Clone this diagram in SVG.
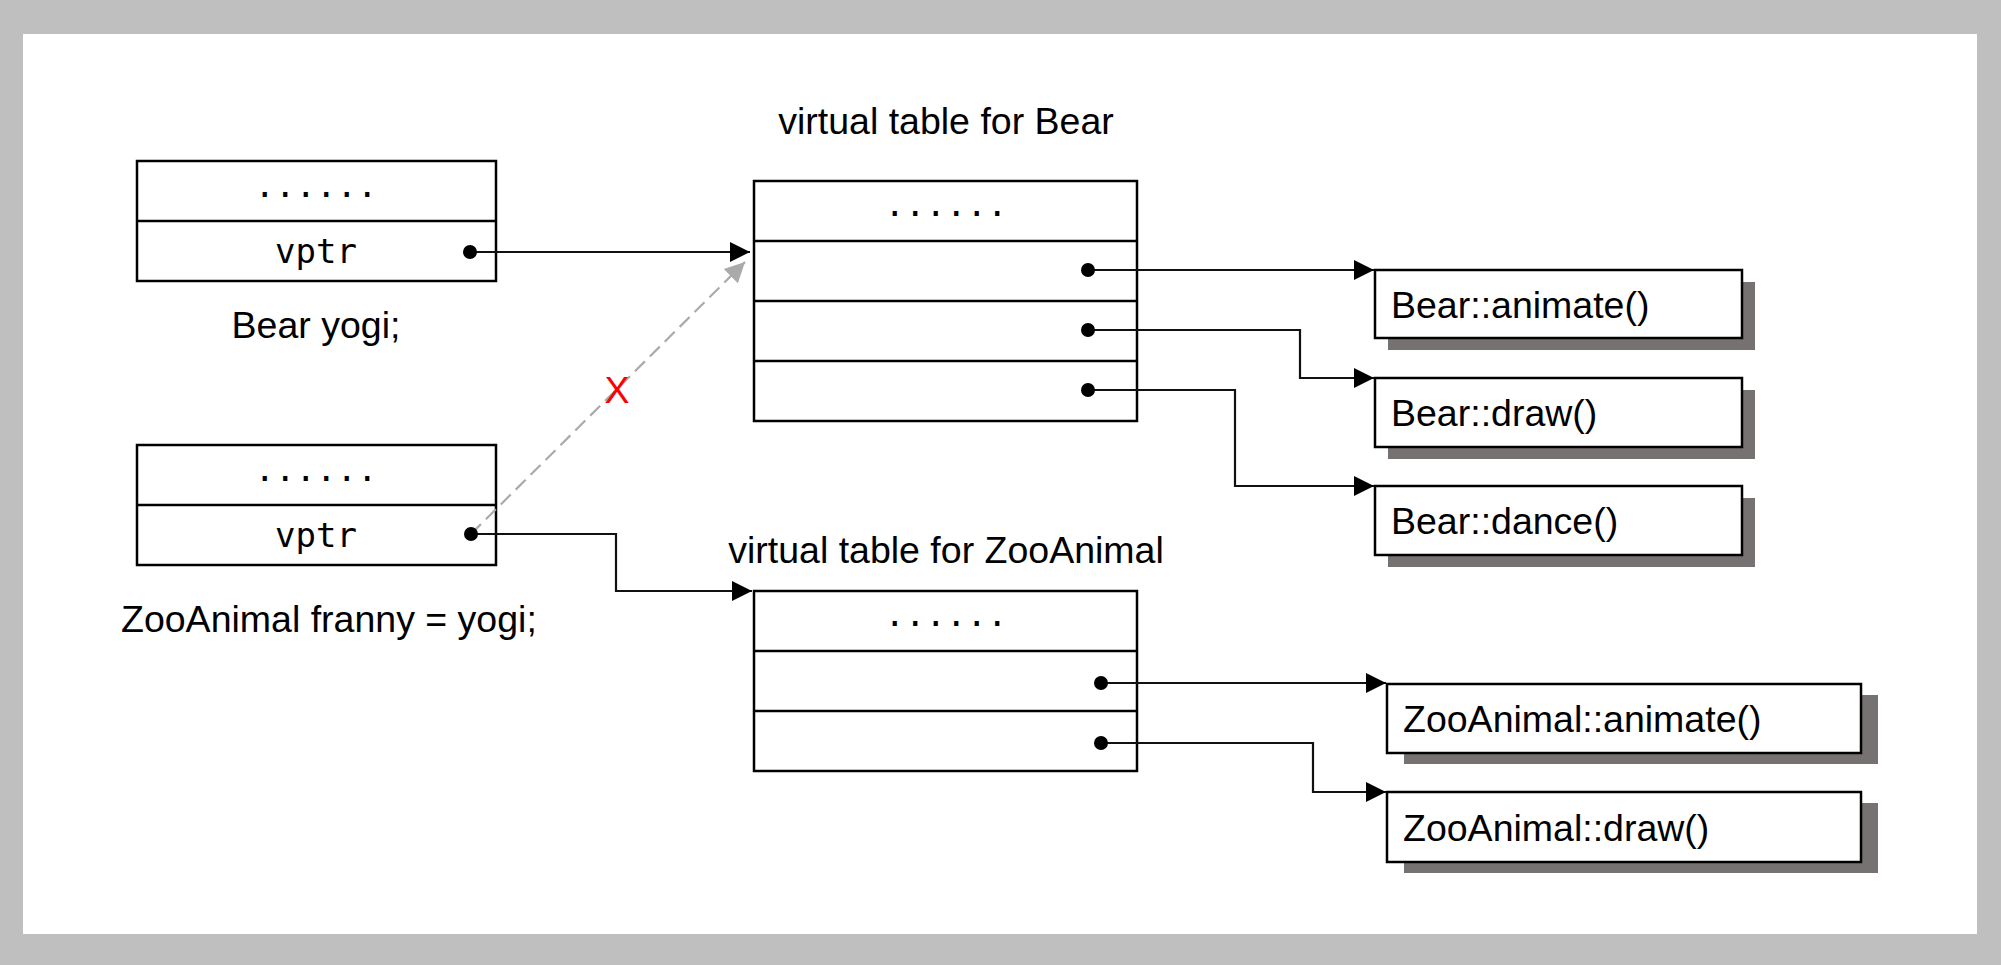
<svg xmlns="http://www.w3.org/2000/svg" width="2001" height="965" viewBox="0 0 2001 965">
<style>
.box{fill:#fff;stroke:#000;stroke-width:2.5}
.div{stroke:#000;stroke-width:2.5}
.shadow{fill:#777272}
.mono{font-family:"DejaVu Sans Mono","Liberation Mono",monospace;font-size:34px;fill:#000;text-anchor:middle}
.lbl{font-family:"Liberation Sans",Arial,sans-serif;font-size:37.5px;fill:#000}
.mid{text-anchor:middle}
.conn{fill:none;stroke:#111;stroke-width:2.2}
.dash{fill:none;stroke:#aaaaaa;stroke-width:2.2;stroke-dasharray:14 7}
.dot{fill:#000}
</style>
<defs>
<marker id="arr" markerUnits="userSpaceOnUse" markerWidth="22" markerHeight="22" refX="20" refY="11" orient="auto">
<path d="M0,1 L20,11 L0,21 z" fill="#000"/>
</marker>
<marker id="arrg" markerUnits="userSpaceOnUse" markerWidth="22" markerHeight="22" refX="20" refY="11" orient="auto">
<path d="M0,1 L20,11 L0,21 z" fill="#aaaaaa"/>
</marker>
</defs>
<rect x="0" y="0" width="2001" height="965" fill="#bfbfbf"/>
<rect x="23" y="34" width="1954" height="900" fill="#fff"/>

<g id="yogi">
<rect class="box" x="137" y="161" width="359" height="120"/>
<line class="div" x1="137" y1="221" x2="496" y2="221"/>
<text class="mono" x="316" y="197">......</text>
<text class="mono" x="316" y="263">vptr</text>
<text class="lbl mid" x="316" y="338">Bear yogi;</text>
</g>

<g id="franny">
<rect class="box" x="137" y="445" width="359" height="120"/>
<line class="div" x1="137" y1="505" x2="496" y2="505"/>
<text class="mono" x="316" y="481">......</text>
<text class="mono" x="316" y="547">vptr</text>
<text class="lbl" x="121" y="632">ZooAnimal franny = yogi;</text>
</g>

<g id="vtbl-bear">
<text class="lbl mid" x="946" y="134">virtual table for Bear</text>
<rect class="box" x="754" y="181" width="383" height="240"/>
<line class="div" x1="754" y1="241" x2="1137" y2="241"/>
<line class="div" x1="754" y1="301" x2="1137" y2="301"/>
<line class="div" x1="754" y1="361" x2="1137" y2="361"/>
<text class="mono" x="946" y="216">......</text>
</g>

<g id="vtbl-zoo">
<text class="lbl mid" x="946" y="563">virtual table for ZooAnimal</text>
<rect class="box" x="754" y="591" width="383" height="180"/>
<line class="div" x1="754" y1="651" x2="1137" y2="651"/>
<line class="div" x1="754" y1="711" x2="1137" y2="711"/>
<text class="mono" x="946" y="626">......</text>
</g>

<g id="bear-animate">
<rect class="shadow" x="1388" y="282" width="367" height="68"/>
<rect class="box" x="1375" y="270" width="367" height="68"/>
<text class="lbl" x="1391" y="318">Bear::animate()</text>
</g>
<g id="bear-draw">
<rect class="shadow" x="1388" y="390" width="367" height="69"/>
<rect class="box" x="1375" y="378" width="367" height="69"/>
<text class="lbl" x="1391" y="426">Bear::draw()</text>
</g>
<g id="bear-dance">
<rect class="shadow" x="1388" y="498" width="367" height="69"/>
<rect class="box" x="1375" y="486" width="367" height="69"/>
<text class="lbl" x="1391" y="534">Bear::dance()</text>
</g>
<g id="zoo-animate">
<rect class="shadow" x="1404" y="695" width="474" height="69"/>
<rect class="box" x="1387" y="684" width="474" height="69"/>
<text class="lbl" x="1403" y="732">ZooAnimal::animate()</text>
</g>
<g id="zoo-draw">
<rect class="shadow" x="1404" y="803" width="474" height="70"/>
<rect class="box" x="1387" y="792" width="474" height="70"/>
<text class="lbl" x="1403" y="841">ZooAnimal::draw()</text>
</g>

<g id="connectors">
<path class="dash" d="M471,534 L745,262" marker-end="url(#arrg)"/>
<text class="lbl mid" x="617" y="403" style="fill:#ff0000">X</text>
<path class="conn" d="M470,252 L750,252" marker-end="url(#arr)"/>
<path class="conn" d="M471,534 L616,534 L616,591 L752,591" marker-end="url(#arr)"/>
<path class="conn" d="M1088,270 L1374,270" marker-end="url(#arr)"/>
<path class="conn" d="M1088,330 L1300,330 L1300,378 L1374,378" marker-end="url(#arr)"/>
<path class="conn" d="M1088,390 L1235,390 L1235,486 L1374,486" marker-end="url(#arr)"/>
<path class="conn" d="M1101,683 L1386,683" marker-end="url(#arr)"/>
<path class="conn" d="M1101,743 L1313,743 L1313,792 L1386,792" marker-end="url(#arr)"/>
<circle class="dot" cx="470" cy="252" r="7"/>
<circle class="dot" cx="471" cy="534" r="7"/>
<circle class="dot" cx="1088" cy="270" r="7"/>
<circle class="dot" cx="1088" cy="330" r="7"/>
<circle class="dot" cx="1088" cy="390" r="7"/>
<circle class="dot" cx="1101" cy="683" r="7"/>
<circle class="dot" cx="1101" cy="743" r="7"/>
</g>
</svg>
